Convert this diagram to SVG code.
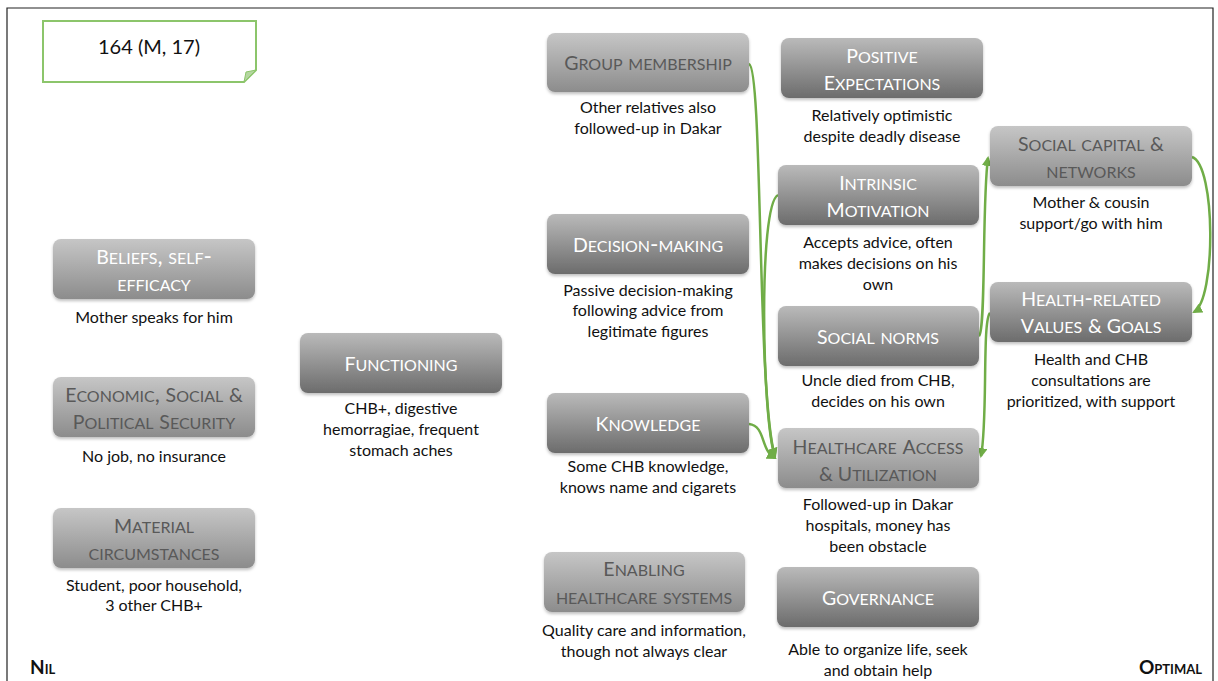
<svg xmlns="http://www.w3.org/2000/svg" width="1218" height="681" viewBox="0 0 1218 681">
  <defs>
    <linearGradient id="gLight" x1="0" y1="0" x2="0" y2="1">
      <stop offset="0" stop-color="#c6c6c6"/>
      <stop offset="1" stop-color="#8c8c8c"/>
    </linearGradient>
    <linearGradient id="gDark" x1="0" y1="0" x2="0" y2="1">
      <stop offset="0" stop-color="#bababa"/>
      <stop offset="1" stop-color="#6c6c6c"/>
    </linearGradient>
    <filter id="shadow" x="-10%" y="-10%" width="120%" height="130%">
      <feDropShadow dx="0" dy="2" stdDeviation="1.5" flood-color="#000" flood-opacity="0.25"/>
    </filter>
    <marker id="arrow" viewBox="0 0 10 10" refX="8" refY="5" markerWidth="4" markerHeight="4" orient="auto">
      <path d="M0,0 L10,5 L0,10 z" fill="#70ad47"/>
    </marker>
  </defs>
  <style>
    .box { filter: url(#shadow); }
    .light { fill: url(#gLight); }
    .dark { fill: url(#gDark); }
    /* small caps: lower-case runs are synthesised at 70%, capitals set a touch smaller */
    .title { font-family: Lato, "Liberation Sans", sans-serif; font-size: 22.5px; font-variant: small-caps; text-anchor: middle; }
    .title .C { font-size: 19.5px; }
    .tw { fill: #ffffff; }
    .tg { fill: #595959; }
    .desc { font-family: Lato, "Liberation Sans", sans-serif; font-size: 16px; fill: #111; text-anchor: middle; }
    .edge { fill: none; stroke: #70ad47; stroke-width: 2.5; marker-end: url(#arrow); }
    .scale { font-family: Lato, "Liberation Sans", sans-serif; font-size: 19px; font-weight: bold; font-variant: small-caps; fill: #111; }
  </style>

  <rect width="1218" height="681" fill="#ffffff"/>
  <!-- frame -->
  <path d="M7,681 V8 H1213 V681" fill="none" stroke="#222" stroke-width="1.2"/>

  <!-- case label -->
  <g id="case">
    <path d="M43,21 H256 V70 L244,82 H43 Z" fill="#fff" stroke="#8cc56b" stroke-width="2"/>
    <path d="M244,82 L246,72 L256,70 Z" fill="#b5d6a0" stroke="#8cc56b" stroke-width="1"/>
    <text x="149" y="54" font-family="Lato, 'Liberation Sans', sans-serif" font-size="20" text-anchor="middle" fill="#111">164 (M, 17)</text>
  </g>

  <!-- connectors -->
  <g id="connectors">
    <path class="edge" d="M749,64 C763,68 757,400 775,456"/>
    <path class="edge" d="M778,195 C758,205 762,420 775,457"/>
    <path class="edge" d="M749,424 C766,426 760,450 775,458"/>
    <path class="edge" d="M979,336 C986,330 982,200 988,158"/>
    <path class="edge" d="M990,313 C982,320 988,420 981,456"/>
    <path class="edge" d="M1192,157 C1216,165 1216,300 1194,312"/>
  </g>

  <!-- left column -->
  <g id="beliefs">
    <rect class="box light" x="53" y="239" width="202" height="60" rx="8"/>
    <text class="title tw" x="154" y="264"><tspan class="C">B</tspan>eliefs, self-</text>
    <text class="title tw" x="154" y="291">efficacy</text>
    <text class="desc" x="154" y="323">Mother speaks for him</text>
  </g>
  <g id="economic">
    <rect class="box light" x="53" y="377" width="202" height="60" rx="8"/>
    <text class="title tg" x="154" y="402"><tspan class="C">E</tspan>conomic, <tspan class="C">S</tspan>ocial <tspan class="C">&amp;</tspan></text>
    <text class="title tg" x="154" y="429"><tspan class="C">P</tspan>olitical <tspan class="C">S</tspan>ecurity</text>
    <text class="desc" x="154" y="462">No job, no insurance</text>
  </g>
  <g id="material">
    <rect class="box light" x="53" y="508" width="202" height="60" rx="8"/>
    <text class="title tg" x="154" y="533"><tspan class="C">M</tspan>aterial</text>
    <text class="title tg" x="154" y="560">circumstances</text>
    <text class="desc" x="154" y="591">Student, poor household,</text>
    <text class="desc" x="154" y="611">3 other CHB+</text>
  </g>
  <g id="functioning">
    <rect class="box dark" x="300" y="333" width="202" height="60" rx="8"/>
    <text class="title tw" x="401" y="371"><tspan class="C">F</tspan>unctioning</text>
    <text class="desc" x="401" y="414">CHB+, digestive</text>
    <text class="desc" x="401" y="435">hemorragiae, frequent</text>
    <text class="desc" x="401" y="456">stomach aches</text>
  </g>

  <!-- middle column -->
  <g id="group-membership">
    <rect class="box light" x="547" y="33" width="202" height="59" rx="8"/>
    <text class="title tg" x="648" y="70"><tspan class="C">G</tspan>roup membership</text>
    <text class="desc" x="648" y="113">Other relatives also</text>
    <text class="desc" x="648" y="134">followed-up in Dakar</text>
  </g>
  <g id="decision-making">
    <rect class="box dark" x="547" y="214" width="202" height="60" rx="8"/>
    <text class="title tw" x="648" y="252"><tspan class="C">D</tspan>ecision-making</text>
    <text class="desc" x="648" y="296">Passive decision-making</text>
    <text class="desc" x="648" y="316">following advice from</text>
    <text class="desc" x="648" y="337">legitimate figures</text>
  </g>
  <g id="knowledge">
    <rect class="box dark" x="547" y="393" width="202" height="60" rx="8"/>
    <text class="title tw" x="648" y="431"><tspan class="C">K</tspan>nowledge</text>
    <text class="desc" x="648" y="472">Some CHB knowledge,</text>
    <text class="desc" x="648" y="493">knows name and cigarets</text>
  </g>
  <g id="enabling">
    <rect class="box light" x="544" y="552" width="201" height="60" rx="8"/>
    <text class="title tg" x="644" y="576"><tspan class="C">E</tspan>nabling</text>
    <text class="title tg" x="644" y="604">healthcare systems</text>
    <text class="desc" x="644" y="636">Quality care and information,</text>
    <text class="desc" x="644" y="657">though not always clear</text>
  </g>

  <!-- right columns -->
  <g id="positive-expectations">
    <rect class="box dark" x="781" y="38" width="202" height="60" rx="8"/>
    <text class="title tw" x="882" y="63"><tspan class="C">P</tspan>ositive</text>
    <text class="title tw" x="882" y="90"><tspan class="C">E</tspan>xpectations</text>
    <text class="desc" x="882" y="121">Relatively optimistic</text>
    <text class="desc" x="882" y="142">despite deadly disease</text>
  </g>
  <g id="intrinsic-motivation">
    <rect class="box dark" x="778" y="165" width="201" height="60" rx="8"/>
    <text class="title tw" x="878" y="190"><tspan class="C">I</tspan>ntrinsic</text>
    <text class="title tw" x="878" y="217"><tspan class="C">M</tspan>otivation</text>
    <text class="desc" x="878" y="248">Accepts advice, often</text>
    <text class="desc" x="878" y="269">makes decisions on his</text>
    <text class="desc" x="878" y="290">own</text>
  </g>
  <g id="social-norms">
    <rect class="box dark" x="778" y="306" width="201" height="60" rx="8"/>
    <text class="title tw" x="878" y="344"><tspan class="C">S</tspan>ocial norms</text>
    <text class="desc" x="878" y="386">Uncle died from CHB,</text>
    <text class="desc" x="878" y="407">decides on his own</text>
  </g>
  <g id="healthcare-access">
    <rect class="box light" x="778" y="428" width="201" height="60" rx="8"/>
    <text class="title tg" x="878" y="454"><tspan class="C">H</tspan>ealthcare <tspan class="C">A</tspan>ccess</text>
    <text class="title tg" x="878" y="481"><tspan class="C">&amp; U</tspan>tilization</text>
    <text class="desc" x="878" y="510">Followed-up in Dakar</text>
    <text class="desc" x="878" y="531">hospitals, money has</text>
    <text class="desc" x="878" y="552">been obstacle</text>
  </g>
  <g id="governance">
    <rect class="box dark" x="777" y="567" width="202" height="60" rx="8"/>
    <text class="title tw" x="878" y="605"><tspan class="C">G</tspan>overnance</text>
    <text class="desc" x="878" y="655">Able to organize life, seek</text>
    <text class="desc" x="878" y="676">and obtain help</text>
  </g>
  <g id="social-capital">
    <rect class="box light" x="990" y="126" width="202" height="60" rx="8"/>
    <text class="title tg" x="1091" y="151"><tspan class="C">S</tspan>ocial capital <tspan class="C">&amp;</tspan></text>
    <text class="title tg" x="1091" y="178">networks</text>
    <text class="desc" x="1091" y="208">Mother &amp; cousin</text>
    <text class="desc" x="1091" y="229">support/go with him</text>
  </g>
  <g id="health-values">
    <rect class="box dark" x="990" y="282" width="202" height="60" rx="8"/>
    <text class="title tw" x="1091" y="306"><tspan class="C">H</tspan>ealth-related</text>
    <text class="title tw" x="1091" y="333"><tspan class="C">V</tspan>alues <tspan class="C">&amp; G</tspan>oals</text>
    <text class="desc" x="1091" y="365">Health and CHB</text>
    <text class="desc" x="1091" y="386">consultations are</text>
    <text class="desc" x="1091" y="407">prioritized, with support</text>
  </g>

  <!-- scale ends -->
  <text class="scale" x="30" y="674">Nil</text>
  <text class="scale" x="1202" y="674" text-anchor="end">Optimal</text>
</svg>
